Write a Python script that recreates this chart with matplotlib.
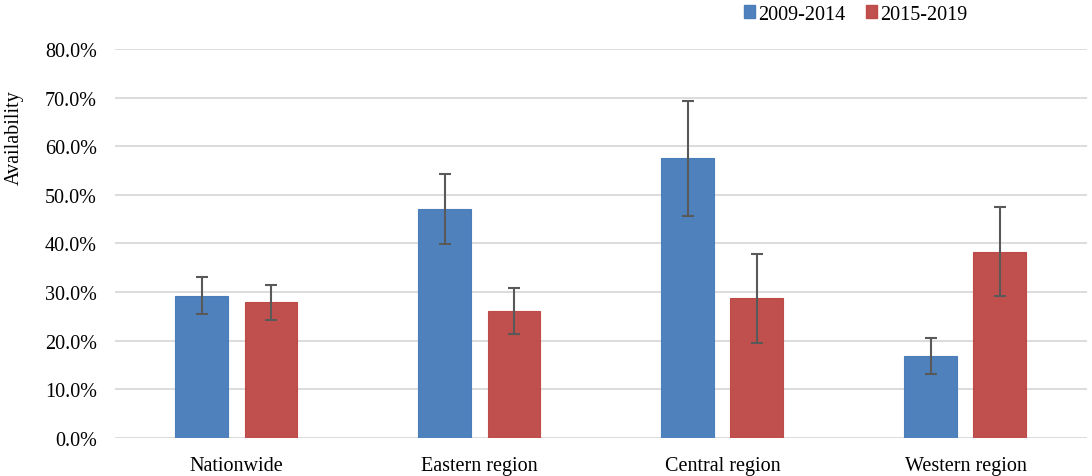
import matplotlib.pyplot as plt
import numpy as np
from matplotlib.ticker import FuncFormatter
from matplotlib.patches import Patch

plt.rcParams['font.family'] = ['Liberation Serif', 'DejaVu Serif']

# values (fractions)
regions = ['Nationwide', 'Eastern region', 'Central region', 'Western region']
period_a = '2009-2014'
period_b = '2015-2019'
avail_a = [0.293, 0.470, 0.575, 0.168]
err_a = [0.038, 0.072, 0.119, 0.037]
avail_b = [0.279, 0.261, 0.287, 0.383]
err_b = [0.036, 0.047, 0.091, 0.092]

blue = '#4F81BD'
red = '#C0504D'
fs = 14.5

fig = plt.figure(figsize=(10.92, 4.77), dpi=100)
ax = fig.add_axes([0.1053, 0.0797, 0.8901, 0.8155])

x = np.arange(len(regions))
w = 0.218
off = 0.142
err_kw = dict(ecolor='#595959', elinewidth=1.5, capsize=4.5, capthick=1.5)
ax.bar(x - off, avail_a, w, color=blue, edgecolor='#4A7EBB', linewidth=0.8,
       yerr=err_a, error_kw=err_kw, zorder=3)
ax.bar(x + off, avail_b, w, color=red, edgecolor='#BE4B48', linewidth=0.8,
       yerr=err_b, error_kw=err_kw, zorder=3)

ax.set_xlim(-0.5, len(regions) - 0.5)
ax.set_ylim(0, 0.8)
ax.set_yticks(np.arange(0, 0.81, 0.1))
ax.yaxis.set_major_formatter(FuncFormatter(lambda v, p: f'{v * 100:.1f}%'))
ax.set_xticks(x)
ax.set_xticklabels(regions)
ax.grid(axis='y', color='#d9d9d9', linewidth=1.3, zorder=0)
ax.set_axisbelow(True)
for s in ax.spines.values():
    s.set_visible(False)
ax.tick_params(axis='both', length=0, labelsize=fs, colors='#000000')
ax.tick_params(axis='y', pad=13)
ax.tick_params(axis='x', pad=13)

fig.text(0.0135, 0.712, 'Availability', rotation=90, fontsize=fs,
         ha='center', va='center')

handles = [Patch(facecolor=blue, edgecolor='#4A7EBB', label=period_a),
           Patch(facecolor=red, edgecolor='#BE4B48', label=period_b)]
fig.legend(handles=handles, loc='center', bbox_to_anchor=(0.7835, 0.968), ncol=2,
           frameon=False, fontsize=fs, handlelength=0.55, handleheight=0.6,
           handletextpad=0.15, columnspacing=1.0)

fig.savefig('out.png', dpi=100)
